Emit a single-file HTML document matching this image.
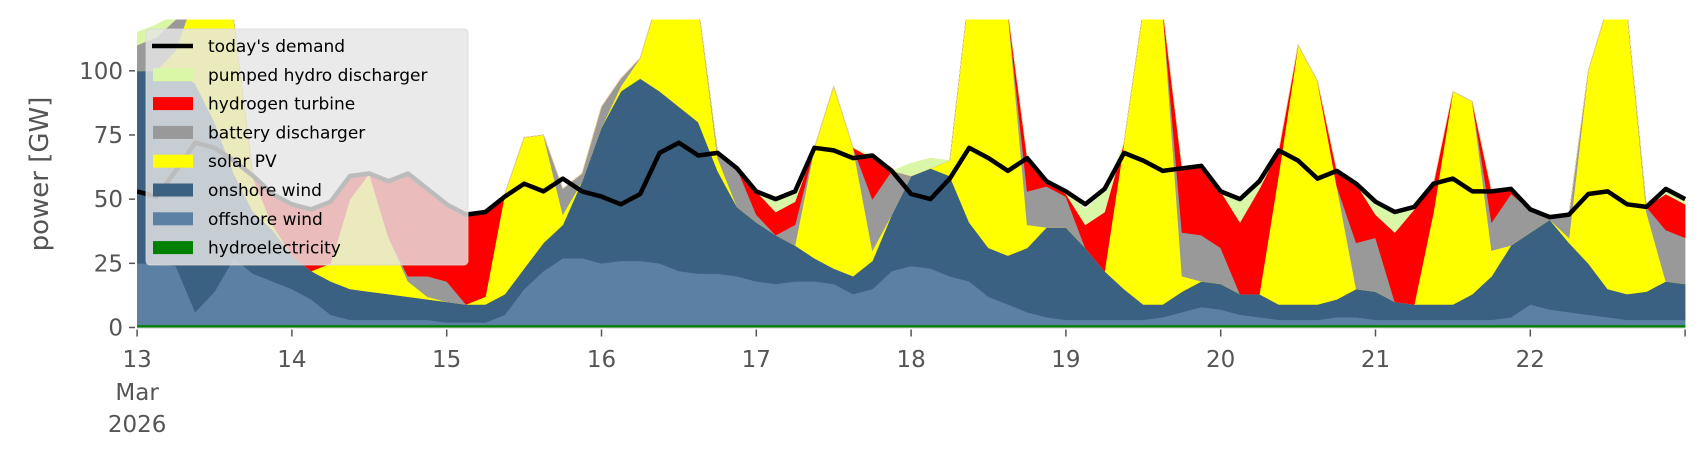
<!DOCTYPE html>
<html><head><meta charset="utf-8"><style>
html,body{margin:0;padding:0;background:#fff;}
svg{display:block;font-family:"DejaVu Sans","Liberation Sans",sans-serif;}
</style></head><body>
<svg id="chart" xmlns="http://www.w3.org/2000/svg" width="1706" height="460" viewBox="0 0 1706 460">
<defs><clipPath id="plotclip"><rect x="137" y="19.5" width="1549" height="308.5"/></clipPath></defs>
<g id="areas" clip-path="url(#plotclip)"></g>
<g id="demandg" clip-path="url(#plotclip)"></g>
<g id="axes"></g>
<text transform="translate(48,174) rotate(-90)" text-anchor="middle" font-size="26" fill="#555">power [GW]</text>
<g id="legend"></g>
</svg>
<script>
// 3-hourly values, 13 Mar 00:00 to 23 Mar 00:00 (GW)
const hydro = [1,1,1,1,1,1,1,1,1,1,1,1,1,1,1,1,1,1,1,1,1,1,1,1,1,1,1,1,1,1,1,1,1,1,1,1,1,1,1,1,1,1,1,1,1,1,1,1,1,1,1,1,1,1,1,1,1,1,1,1,1,1,1,1,1,1,1,1,1,1,1,1,1,1,1,1,1,1,1,1,1];
const offshore = [24,24,23,5,13,26,20,17,14,10,4,2,2,2,2,2,1,1,1,4,14,21,26,26,24,25,25,24,21,20,20,19,17,16,17,17,16,12,14,21,23,22,19,17,11,8,5,3,2,2,2,2,2,3,5,7,6,4,3,2,2,2,3,3,2,2,2,2,2,2,2,3,8,6,5,4,3,2,2,2,2];
const onshore = [75,75,76,89,66,33,24,20,13,11,13,12,11,10,9,8,8,7,7,8,8,11,13,30,53,66,71,67,64,59,40,27,23,19,14,9,6,7,11,22,35,39,39,23,19,19,25,35,36,28,19,12,6,5,8,10,10,8,9,6,6,6,7,11,11,7,6,6,6,10,17,28,28,35,27,20,11,10,11,15,14];
const solar = [0,0,8,35,50,60,13,2,0,0,7,35,46,22,6,1,0,0,3,39,51,42,4,0,0,2,8,38,44,45,5,0,0,0,0,43,71,50,4,0,0,0,6,90,95,95,9,0,0,0,0,57,115,115,6,0,0,0,0,51,101,87,44,0,0,0,0,36,83,75,10,0,0,0,2,75,110,110,31,0,0];
const battery = [10,13,12,0,0,0,0,0,0,0,0,0,0,0,2,8,8,0,0,0,0,0,10,3,8,3,0,0,0,0,2,15,3,0,8,0,0,0,20,17,0,0,0,0,0,0,13,16,12,0,0,0,0,0,17,18,14,0,0,0,0,0,0,18,21,0,0,0,0,0,11,20,9,1,9,0,0,0,2,20,18];
const hydrogen = [0,0,0,0,0,0,1,12,20,24,24,9,0,22,40,34,30,35,33,0,0,0,0,0,0,0,0,0,0,0,0,0,9,9,9,0,0,0,16,0,0,0,0,0,0,0,13,2,1,9,23,0,0,0,25,27,22,28,41,9,0,0,6,23,9,27,37,11,0,0,12,2,0,0,0,0,0,0,0,14,13];
const pumpedHydro = [5,5,2,0,0,0,0,0,0,0,0,0,0,0,0,0,0,0,0,0,0,0,0,0,0,0,0,0,0,0,0,0,0,5,4,0,0,0,1,0,5,4,0,0,0,0,0,0,1,6,8,0,0,0,0,0,0,10,3,0,0,0,0,0,5,8,1,0,0,0,0,0,0,1,0,0,0,0,0,2,2];
const demand = [53,51,61,72,70,65,59,52,48,46,49,59,60,57,60,54,48,44,45,51,56,53,58,53,51,48,52,68,72,67,68,62,53,50,53,70,69,66,67,61,52,50,58,70,66,61,66,57,53,48,54,68,65,61,62,63,53,50,57,69,65,58,61,56,49,45,47,56,58,53,53,54,46,43,44,52,53,48,47,54,50];
const yTicks = [0,25,50,75,100];
const xTickDays = [13,14,15,16,17,18,19,20,21,22,23];
const xTickLabels = ["13","14","15","16","17","18","19","20","21","22",""];

const NS="http://www.w3.org/2000/svg";
const X0=137.1, DAYPX=154.8, Y0=327.5, GWPX=2.567, STEPH=3;
function xs(i){return X0 + (i*STEPH/24)*DAYPX;}
function xd(day){return X0 + (day-13)*DAYPX;}
function ys(v){return Y0 - v*GWPX;}
function mk(tag,attrs,parent){const e=document.createElementNS(NS,tag);for(const k in attrs)e.setAttribute(k,attrs[k]);parent.appendChild(e);return e;}

const series=[
 {name:"hydroelectricity",data:hydro,color:"#008000",dn:"area-hydroelectricity"},
 {name:"offshore wind",data:offshore,color:"#5b80a3",dn:"area-offshore-wind"},
 {name:"onshore wind",data:onshore,color:"#3b6182",dn:"area-onshore-wind"},
 {name:"solar PV",data:solar,color:"#ffff00",dn:"area-solar-pv"},
 {name:"battery discharger",data:battery,color:"#999999",dn:"area-battery-discharger"},
 {name:"hydrogen turbine",data:hydrogen,color:"#ff0000",dn:"area-hydrogen-turbine"},
 {name:"pumped hydro discharger",data:pumpedHydro,color:"#d9f7a6",dn:"area-pumped-hydro-discharger"}
];
const areas=document.getElementById('areas');
const n=demand.length;
let base=new Array(n).fill(0);
series.forEach(s=>{
  const top=base.map((b,i)=>b+s.data[i]);
  let pts=[];
  for(let i=0;i<n;i++)pts.push(xs(i).toFixed(1)+","+ys(top[i]).toFixed(1));
  for(let i=n-1;i>=0;i--)pts.push(xs(i).toFixed(1)+","+ys(base[i]).toFixed(1));
  const p=mk('polygon',{points:pts.join(' '),fill:s.color,stroke:s.color,'stroke-width':'0.6'},areas);
  
  
  base=top;
});
const dg=document.getElementById('demandg');
const dl=mk('polyline',{points:demand.map((v,i)=>xs(i).toFixed(1)+","+ys(v).toFixed(1)).join(' '),fill:'none',stroke:'#000','stroke-width':'4.5','stroke-linejoin':'round'},dg);



const ax=document.getElementById('axes');
const bl=mk('line',{x1:X0,y1:Y0+0.5,x2:xd(23),y2:Y0+0.5,stroke:'#ccc','stroke-width':'1'},ax);


yTicks.forEach(v=>{
  const t=mk('line',{x1:129,y1:ys(v),x2:135,y2:ys(v),stroke:'#555','stroke-width':'1.5'},ax);
  
  
  const l=mk('text',{x:123,y:ys(v)+8,'text-anchor':'end','font-size':'23',fill:'#555'},ax);
  l.textContent=String(v);
  
  
});
xTickDays.forEach((d,i)=>{
  const t=mk('line',{x1:xd(d),y1:Y0+2,x2:xd(d),y2:Y0+9,stroke:'#555','stroke-width':'1.5'},ax);
  
  
  if(xTickLabels[i]){
    const l=mk('text',{x:xd(d),y:367,'text-anchor':'middle','font-size':'23',fill:'#555'},ax);
    l.textContent=xTickLabels[i];
    
    
  }
});
const m1=mk('text',{x:xd(13),y:400,'text-anchor':'middle','font-size':'23',fill:'#555'},ax);
m1.textContent="Mar";


const m2=mk('text',{x:xd(13),y:432,'text-anchor':'middle','font-size':'23',fill:'#555'},ax);
m2.textContent="2026";



const lg=document.getElementById('legend');
const box=mk('rect',{x:146,y:29,width:322,height:236,rx:4,fill:'rgb(229,229,229)','fill-opacity':'0.82',stroke:'#d8d8d8','stroke-opacity':'0.8'},lg);


const entries=[["today's demand","line","#000"],["pumped hydro discharger","patch","#d9f7a6"],["hydrogen turbine","patch","#ff0000"],["battery discharger","patch","#999999"],["solar PV","patch","#ffff00"],["onshore wind","patch","#3b6182"],["offshore wind","patch","#5b80a3"],["hydroelectricity","patch","#008000"]];
entries.forEach((e,i)=>{
  const y=46+i*28.8;
  const g=mk('g',{},lg);
  
  
  if(e[1]==="line") mk('line',{x1:152,y1:y,x2:193,y2:y,stroke:e[2],'stroke-width':'4.5'},g);
  else mk('rect',{x:153,y:y-6.5,width:40,height:13,fill:e[2]},g);
  const t=mk('text',{x:208,y:y+6,'font-size':'17','fill':'#000'},g);
  t.textContent=e[0];
});
</script>
</body></html>
